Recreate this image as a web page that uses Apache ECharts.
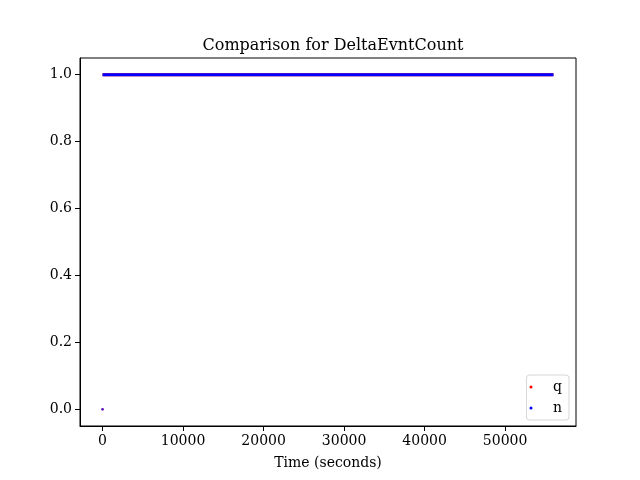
<!DOCTYPE html>
<html>
<head>
<meta charset="utf-8">
<script src="https://cdn.jsdelivr.net/npm/echarts@6/dist/echarts.min.js"></script>
<style>
  html, body { margin: 0; padding: 0; background: #fff; }
  #main { width: 640px; height: 480px; }
</style>
</head>
<body>
<div id="main"></div>
<script>
// values
var seriesNames = ['q', 'n'];
var seriesColors = ['#ff0000', '#0000ff'];
// first sample: delta is 0 at t = 0
var firstTime = [0, 0];
var firstValue = [0, 0];
// every later sample sits at 1, from t = 0 to about 56000 s
var runTime = [0, 56000];
var runValue = [1, 1];
var xTicks = [0, 10000, 20000, 30000, 40000, 50000];
var yTicks = [0, 0.2, 0.4, 0.6, 0.8, 1.0];

var font = 'DejaVu Serif';

function pairs(xs, ys) {
    var out = [];
    for (var i = 0; i < xs.length; i++) {
        out.push([xs[i], ys[i]]);
    }
    return out;
}

var series = [];
for (var k = 0; k < seriesNames.length; k++) {
    // dense dots at 1 look like a thick line
    series.push({
        name: seriesNames[k],
        type: 'line',
        data: pairs(runTime, runValue),
        showSymbol: false,
        color: seriesColors[k],
        lineStyle: { width: 3, color: seriesColors[k] },
        animation: false,
        z: 2 + k
    });
    series.push({
        name: seriesNames[k],
        type: 'scatter',
        data: [[firstTime[k], firstValue[k]]],
        symbolSize: 2.5,
        color: seriesColors[k],
        itemStyle: { opacity: 0.7 },
        animation: false,
        z: 2 + k
    });
}

var myChart = echarts.init(document.getElementById('main'));
myChart.setOption({
    backgroundColor: '#fff',
    title: {
        text: 'Comparison for DeltaEvntCount',
        left: 328,
        top: 33,
        textAlign: 'center',
        textStyle: { fontFamily: font, fontSize: 16, fontWeight: 'normal', color: '#000' }
    },
    grid: {
        left: 80, right: 64, top: 58, bottom: 54,
        show: true, borderColor: '#000', borderWidth: 1
    },
    legend: {
        data: seriesNames.map(function (n) { return { name: n, icon: 'circle' }; }),
        orient: 'vertical',
        right: 71,
        bottom: 60,
        itemWidth: 34,
        itemHeight: 3,
        itemGap: 7,
        padding: [5, 7, 5, 3],
        borderColor: '#d6d6d6',
        borderWidth: 1,
        borderRadius: 3,
        textStyle: { fontFamily: font, fontSize: 14, color: '#000' }
    },
    xAxis: {
        type: 'value',
        min: -2800,
        max: 58800,
        name: 'Time (seconds)',
        nameLocation: 'middle',
        nameGap: 30,
        nameTextStyle: { fontFamily: font, fontSize: 14, color: '#000' },
        splitLine: { show: false },
        axisLine: { show: true, onZero: false, lineStyle: { color: '#000' } },
        axisTick: { show: true, length: 5, customValues: xTicks, lineStyle: { color: '#000' } },
        axisLabel: {
            customValues: xTicks,
            fontFamily: font, fontSize: 14, color: '#000', margin: 8,
            formatter: function (v) { return String(v); }
        }
    },
    yAxis: {
        type: 'value',
        min: -0.05,
        max: 1.05,
        splitLine: { show: false },
        axisLine: { show: true, onZero: false, lineStyle: { color: '#000' } },
        axisTick: { show: true, length: 5, customValues: yTicks, lineStyle: { color: '#000' } },
        axisLabel: {
            customValues: yTicks,
            fontFamily: font, fontSize: 14, color: '#000', margin: 8,
            formatter: function (v) { return v.toFixed(1); }
        }
    },
    series: series
});
</script>
</body>
</html>
